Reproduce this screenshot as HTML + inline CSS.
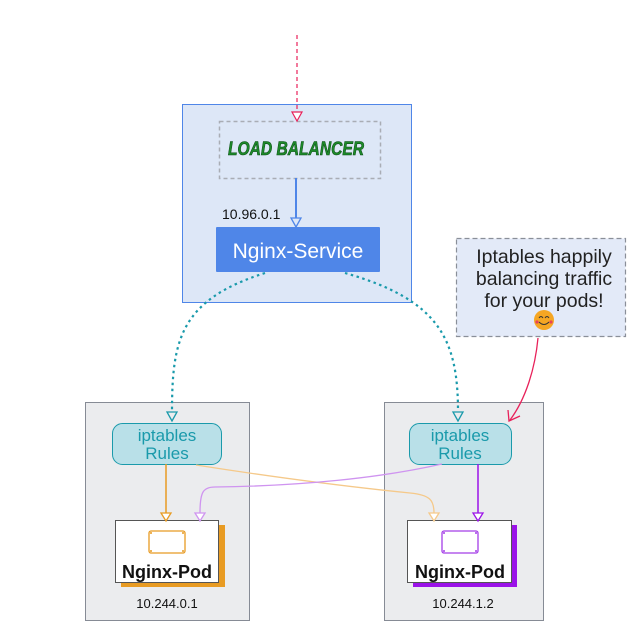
<!DOCTYPE html>
<html><head><meta charset="utf-8"><style>
html,body{margin:0;padding:0;background:#fff;}
svg{display:block;}
text{font-family:"Liberation Sans","DejaVu Sans",sans-serif;}
</style></head><body>
<svg width="627" height="632" viewBox="0 0 627 632" xmlns="http://www.w3.org/2000/svg">
<rect x="182.5" y="104.5" width="229" height="198" fill="#dde7f7" stroke="#4f86e8" stroke-width="1"/>
<rect x="219.5" y="121.5" width="161" height="57" fill="none" stroke="#a9adb5" stroke-width="1.5" stroke-dasharray="4,3"/>
<text x="296" y="155" text-anchor="middle" font-size="19" font-weight="bold" font-style="italic" fill="#1d8a2a" stroke="#0c4d14" stroke-width="0.6" textLength="136" lengthAdjust="spacingAndGlyphs">LOAD BALANCER</text>
<line x1="297" y1="35" x2="297" y2="112" stroke="#e8215a" stroke-width="1.2" stroke-dasharray="4,3"/>
<polygon points="292,112 302,112 297,121" fill="#fff" stroke="#e8215a" stroke-width="1.2"/>
<line x1="296" y1="178" x2="296" y2="218" stroke="#4f86e8" stroke-width="2"/>
<polygon points="291,218 301,218 296,227" fill="#dde7f7" stroke="#4f86e8" stroke-width="1.3"/>
<text x="222" y="219" font-size="14" fill="#111">10.96.0.1</text>
<rect x="216" y="227" width="164" height="45" fill="#4f86e8" rx="1"/>
<text x="298" y="258" text-anchor="middle" font-size="21" fill="#fff">Nginx-Service</text>
<rect x="85.5" y="402.5" width="164" height="218" fill="#ebecee" stroke="#868b95" stroke-width="1"/>
<rect x="384.5" y="402.5" width="159" height="218" fill="#ebecee" stroke="#868b95" stroke-width="1"/>
<path d="M265,273 C180,300 172,340 172,412" fill="none" stroke="#1a9aab" stroke-width="2.2" stroke-dasharray="2.5,3.5"/>
<polygon points="167,412 177,412 172,421" fill="#ebecee" stroke="#1a9aab" stroke-width="1.3"/>
<path d="M345,273 C440,300 458,340 458,412" fill="none" stroke="#1a9aab" stroke-width="2.2" stroke-dasharray="2.5,3.5"/>
<polygon points="453,412 463,412 458,421" fill="#ebecee" stroke="#1a9aab" stroke-width="1.3"/>
<rect x="456.5" y="238.5" width="169" height="98" fill="#e3eaf8" stroke="#8a8f99" stroke-width="1.2" stroke-dasharray="5,3"/>
<text x="544" y="263" text-anchor="middle" font-size="19.5" fill="#222">Iptables happily</text>
<text x="544" y="285" text-anchor="middle" font-size="19.5" fill="#222">balancing traffic</text>
<text x="544" y="307" text-anchor="middle" font-size="19.5" fill="#222">for your pods!</text>
<circle cx="544" cy="320" r="10" fill="#f5a623"/>
<path d="M539,318 q2,-3 4,0 M545,318 q2,-3 4,0" fill="none" stroke="#333" stroke-width="1"/>
<path d="M539,322 q5,5 10,0" fill="none" stroke="#333" stroke-width="1"/>
<circle cx="537" cy="322" r="1.6" fill="#e8435a"/><circle cx="551" cy="322" r="1.6" fill="#e8435a"/>
<path d="M538,338 C535,370 525,400 510,420" fill="none" stroke="#e8215a" stroke-width="1.3"/>
<path d="M508,410 L509,421 L520,416" fill="none" stroke="#e8215a" stroke-width="1.3"/>
<rect x="112.5" y="423.5" width="109" height="41" rx="10" fill="#b9e0e8" stroke="#1a9aab" stroke-width="1"/>
<text x="167" y="441" text-anchor="middle" font-size="17" fill="#1a9aab">iptables</text>
<text x="167" y="459" text-anchor="middle" font-size="17" fill="#1a9aab">Rules</text>
<rect x="409.5" y="423.5" width="102" height="41" rx="10" fill="#b9e0e8" stroke="#1a9aab" stroke-width="1"/>
<text x="460" y="441" text-anchor="middle" font-size="17" fill="#1a9aab">iptables</text>
<text x="460" y="459" text-anchor="middle" font-size="17" fill="#1a9aab">Rules</text>
<rect x="121" y="525" width="104" height="62" fill="#e89b23"/>
<rect x="115.5" y="520.5" width="103" height="62" fill="#fff" stroke="#555" stroke-width="1"/>
<rect x="149" y="531" width="36" height="22" rx="2" fill="#fff" stroke="#e89b23" stroke-width="1.3"/>
<g fill="#e89b23"><circle cx="151" cy="533" r="1"/><circle cx="183" cy="533" r="1"/><circle cx="151" cy="551" r="1"/><circle cx="183" cy="551" r="1"/></g>
<text x="167" y="578" text-anchor="middle" font-size="18" font-weight="bold" fill="#111">Nginx-Pod</text>
<rect x="413" y="525" width="104" height="62" fill="#9b13e8"/>
<rect x="407.5" y="520.5" width="104" height="62" fill="#fff" stroke="#555" stroke-width="1"/>
<rect x="442" y="531" width="36" height="22" rx="2" fill="#fff" stroke="#a53ee8" stroke-width="1.3"/>
<g fill="#a53ee8"><circle cx="444" cy="533" r="1"/><circle cx="476" cy="533" r="1"/><circle cx="444" cy="551" r="1"/><circle cx="476" cy="551" r="1"/></g>
<text x="460" y="578" text-anchor="middle" font-size="18" font-weight="bold" fill="#111">Nginx-Pod</text>
<text x="167" y="608" text-anchor="middle" font-size="13" fill="#111">10.244.0.1</text>
<text x="463" y="608" text-anchor="middle" font-size="13" fill="#111">10.244.1.2</text>
<line x1="166" y1="464" x2="166" y2="513" stroke="#e89b23" stroke-width="1.5"/>
<polygon points="161,513 171,513 166,521" fill="#fff" stroke="#e89b23" stroke-width="1.3"/>
<path d="M196,465 C260,475 330,485 410,493 C430,495 434,500 434,513" fill="none" stroke="#f5c98a" stroke-width="1.3"/>
<polygon points="429,513 439,513 434,521" fill="#fff" stroke="#f5c98a" stroke-width="1.3"/>
<path d="M442,464 C380,478 300,486 215,487 C203,487 200,492 200,513" fill="none" stroke="#cf94f0" stroke-width="1.3"/>
<polygon points="195,513 205,513 200,521" fill="#fff" stroke="#cf94f0" stroke-width="1.3"/>
<line x1="478" y1="464" x2="478" y2="513" stroke="#9b13e8" stroke-width="1.5"/>
<polygon points="473,513 483,513 478,521" fill="#fff" stroke="#9b13e8" stroke-width="1.3"/>
</svg>
</body></html>
